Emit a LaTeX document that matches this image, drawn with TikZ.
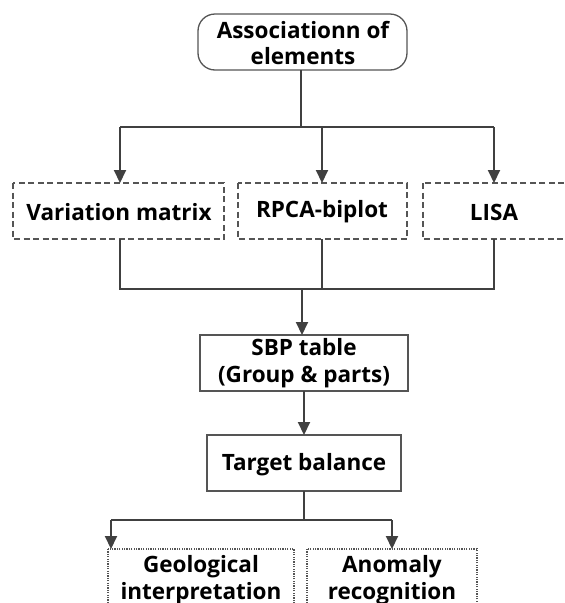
\documentclass[tikz,border=0pt]{standalone}
\usepackage{fontspec}
\setmainfont{Open Sans}
\usetikzlibrary{arrows.meta}
\definecolor{ln}{HTML}{404040}
\definecolor{bx}{HTML}{555555}
\tikzset{
  lbl/.style={font=\bfseries\fontsize{22.5}{26.5}\selectfont, align=center, text=black},
  solidbox/.style={draw=bx, line width=1.3pt},
  dashbox/.style={draw=bx, line width=1.3pt, dash pattern=on 6pt off 3.5pt},
  dotbox/.style={draw=bx, line width=1.2pt, dash pattern=on 1.2pt off 1.2pt},
  conn/.style={draw=ln, line width=2pt},
  arr/.style={conn, -{Triangle[length=13pt,width=12pt]}},
}
\begin{document}
\begin{tikzpicture}[x=1pt,y=-1pt]
\useasboundingbox (0,0) rectangle (565,603);
\begin{scope}
\clip (0,0) rectangle (565,603);
\draw[draw=bx, line width=1.3pt, rounded corners=17pt] (198,14) rectangle (407,70);
\node[lbl] (top) at (303,43) {Associationn of\\elements};
\coordinate (topb) at (301,70);

\draw[dashbox] (13,183) rectangle (224,239);
\node[lbl] (vm) at (119,212) {Variation matrix};
\draw[dashbox] (238,183) rectangle (407,239);
\node[lbl] (rp) at (322,212) {RPCA-biplot};
\draw[dashbox] (423,183) rectangle (580,239);
\node[lbl] (li) at (494,212) {LISA};

\coordinate (vmt) at (120,183); \coordinate (rpt) at (322,183); \coordinate (lit) at (494,183);
\coordinate (vmb) at (120,239); \coordinate (rpb) at (322,239); \coordinate (lib) at (494,239);

\draw[solidbox] (200,335) rectangle (408,391);
\node[lbl] (sbp) at (304,363) {SBP table\\(Group \& parts)};
\coordinate (sbpt) at (302,335); \coordinate (sbpb) at (304,391);

\draw[solidbox] (207,435) rectangle (401,491);
\node[lbl] (tb) at (304,465) {Target balance};
\coordinate (tbt) at (304,435); \coordinate (tbb) at (304,491);

\draw[dotbox] (108,549) rectangle (294,620);
\node[lbl] (geo) at (201,580) {Geological\\interpretation};
\draw[dotbox] (307,549) rectangle (477,620);
\node[lbl] (ano) at (392,580) {Anomaly\\recognition};
\coordinate (geot) at (111,549); \coordinate (anot) at (392,549);

% connectors
\draw[conn] (topb) -- (301,127);
\draw[conn] (120,127) -- (494,127);
\draw[arr] (120,127) -- (vmt);
\draw[arr] (322,127) -- (rpt);
\draw[arr] (494,127) -- (lit);

\draw[conn] (vmb) -- (120,289) -- (494,289) -- (lib);
\draw[conn] (rpb) -- (322,289);
\draw[arr] (302,289) -- (sbpt);

\draw[arr] (sbpb) -- (tbt);

\draw[conn] (tbb) -- (304,520);
\draw[conn] (111,520) -- (392,520);
\draw[arr] (111,520) -- (geot);
\draw[arr] (392,520) -- (anot);
\end{scope}
\end{tikzpicture}
\end{document}
